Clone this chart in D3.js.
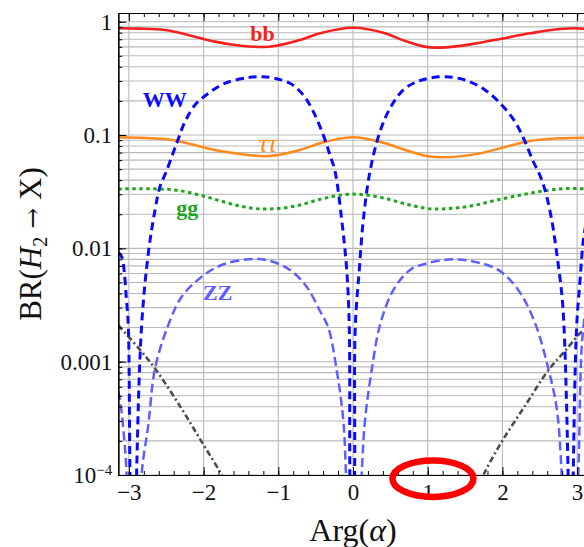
<!DOCTYPE html>
<html>
<head>
<meta charset="utf-8">
<script src="https://cdn.jsdelivr.net/npm/d3@7"></script>
<style>
  html, body { margin: 0; padding: 0; background: #fff; }
  svg text { font-family: "Liberation Serif", "Times New Roman", serif; }
</style>
</head>
<body>
<svg id="chart" width="584" height="547"></svg>
<script>

// values, [Arg(alpha), BR]
var bb = [[-3.142,0.875],[-2.85,0.868],[-2.52,0.845],[-2.12,0.738],[-1.85,0.667],[-1.5,0.614],
  [-1.18,0.598],[-0.71,0.689],[-0.44,0.79],[0,0.885],[0.43,0.79],[0.7,0.676],[1.03,0.594],
  [1.16,0.59],[1.7,0.653],[1.97,0.704],[2.37,0.79],[2.77,0.862],[2.97,0.875],[3.142,0.86]];

var tautau = [[-3.142,0.0954],[-2.52,0.0922],[-2.12,0.0816],[-1.85,0.0738],[-1.51,0.068],
  [-1.18,0.065],[-0.71,0.0738],[-0.44,0.0845],[0,0.0954],[0.43,0.0845],[0.7,0.0738],
  [1.03,0.0645],[1.16,0.0636],[1.7,0.0689],[1.97,0.0763],[2.37,0.0885],[2.77,0.0935],[3.142,0.0948]];

var gg = [[-3.142,0.0334],[-2.85,0.0336],[-2.58,0.0334],[-2.32,0.0323],[-2.05,0.0295],[-1.78,0.0263],
  [-1.51,0.0236],[-1.18,0.0222],[-0.71,0.0241],[-0.44,0.0271],[0,0.0301],[0.43,0.0276],
  [0.76,0.0241],[1.1,0.0222],[1.57,0.0236],[1.97,0.0271],[2.24,0.0295],[2.57,0.0323],
  [2.9,0.0338],[3.142,0.0334]];

var ww = [[-3.142,0.0092],[-3.096,0.0084],[-3.029,0.0033],[-3.008,0.0021],[-2.985,1e-4],[-2.94,1e-6],
  [-2.897,1e-4],[-2.829,0.0021],[-2.74,0.00903],[-2.65,0.0218],[-2.584,0.035],[-2.503,0.047],
  [-2.36,0.0845],[-2.249,0.131],[-2.115,0.184],[-1.937,0.233],[-1.714,0.286],[-1.402,0.321],
  [-1.22,0.327],[-1.111,0.323],[-0.843,0.286],[-0.665,0.225],[-0.531,0.161],[-0.398,0.1],
  [-0.308,0.0666],[-0.241,0.048],[-0.151,0.0178],[-0.084,0.00645],[-0.05,0.002],[-0.042,1e-4],
  [-0.01,1e-6],[0.022,1e-4],[0.03,0.002],[0.084,0.00645],[0.138,0.0178],[0.228,0.048],
  [0.361,0.107],[0.495,0.172],[0.673,0.25],[0.853,0.295],[1.008,0.316],[1.232,0.327],
  [1.499,0.306],[1.767,0.25],[1.991,0.184],[2.169,0.131],[2.303,0.0873],[2.414,0.0581],
  [2.49,0.046],[2.57,0.0327],[2.66,0.0178],[2.727,0.00903],[2.794,0.004],[2.825,0.002],
  [2.88,1e-4],[2.92,1e-6],[2.948,1e-4],[2.993,0.002],[3.039,0.00525],[3.083,0.0118],[3.142,0.02]];

var zz = [[-3.142,0.00055],[-3.11,0.00042],[-3.06,0.0002],[-3.03,1e-4],[-2.94,1e-6],[-2.83,1e-4],
  [-2.74,0.000276],[-2.65,0.00087],[-2.473,0.0021],[-2.293,0.00374],[-2.025,0.00562],
  [-1.758,0.00713],[-1.402,0.008],[-1.124,0.00778],[-0.843,0.00645],[-0.62,0.00458],
  [-0.442,0.0028],[-0.331,0.002],[-0.218,0.00084],[-0.13,0.000305],[-0.094,1e-4],[-0.01,1e-6],
  [0.116,1e-4],[0.161,0.000305],[0.25,0.00084],[0.361,0.0021],[0.54,0.00428],[0.763,0.00645],
  [0.987,0.00737],[1.321,0.008],[1.633,0.0076],[1.945,0.00645],[2.213,0.00428],[2.436,0.0022],
  [2.614,0.00087],[2.727,0.000387],[2.794,1e-4],[2.9,1e-6],[3.016,1e-4],[3.066,0.0015],[3.142,0.004]];

var other = [[-3.142,0.0021],[-2.85,0.00127],[-2.65,0.00087],[-2.3,0.00039],[-2.025,0.000196],
  [-1.758,1e-4],[-1.6,6e-5],[1.6,6e-5],[1.745,1e-4],[1.99,0.000196],[2.3,0.000405],
  [2.615,0.00084],[2.85,0.00127],[3.06,0.00184],[3.142,0.002]];
var otherLeft = other.slice(0, 7), otherRight = other.slice(7);

var xMajor = [-3, -2, -1, 0, 1, 2, 3];
var yMajor = [1e-4, 1e-3, 1e-2, 0.1, 1];
var yLabels = ["10", "0.001", "0.01", "0.1", "1"];

var svg = d3.select("#chart");

var plotL = 118.3, plotR = 587.7, plotT = 13, plotB = 475;

var x = d3.scaleLinear().domain([-Math.PI, Math.PI]).range([plotL, plotR]);
var y = d3.scaleLog().domain([1e-4, Math.pow(10, 0.0768)]).range([plotB, plotT]);

var yMinor = y.ticks().filter(function(d) { return d <= 1.0001; });

svg.append("defs").append("clipPath").attr("id", "plot")
  .append("rect").attr("x", plotL).attr("y", plotT)
  .attr("width", plotR - plotL).attr("height", plotB - plotT);

// grid
var grid = svg.append("g").attr("stroke", "#b9b9b9").attr("stroke-width", 1.1);
grid.selectAll(".hg").data(yMinor)
  .enter().append("line")
  .attr("x1", plotL).attr("x2", plotR)
  .attr("y1", function(d) { return y(d); }).attr("y2", function(d) { return y(d); });
grid.selectAll(".vg").data(xMajor)
  .enter().append("line")
  .attr("y1", plotT).attr("y2", plotB)
  .attr("x1", function(d) { return x(d); }).attr("x2", function(d) { return x(d); });

// curves
var smooth = d3.line()
  .x(function(d) { return x(d[0]); })
  .y(function(d) { return y(d[1]); })
  .curve(d3.curveMonotoneX);
var arcs = d3.line()
  .x(function(d) { return x(d[0]); })
  .y(function(d) { return y(d[1]); })
  .curve(d3.curveCatmullRom.alpha(0.5));

var curves = svg.append("g").attr("clip-path", "url(#plot)").attr("fill", "none");

var series = [
  { data: otherLeft,  gen: arcs,   color: "#4d4d4d", width: 2.6, dash: "6,3,2,3" },
  { data: otherRight, gen: arcs,   color: "#4d4d4d", width: 2.6, dash: "6,3,2,3" },
  { data: zz,         gen: arcs,   color: "#5f5fff", width: 2.5, dash: "9,4.5" },
  { data: gg,         gen: smooth, color: "#1ea51e", width: 3,   dash: "3.5,3.5" },
  { data: tautau,     gen: smooth, color: "#ff8a1c", width: 2.5, dash: null },
  { data: bb,         gen: smooth, color: "#f51f1f", width: 2.6, dash: null },
  { data: ww,         gen: arcs,   color: "#0a0aff", width: 3,   dash: "8,5" }
];

series.forEach(function(s) {
  curves.append("path")
    .attr("d", s.gen(s.data))
    .attr("stroke", s.color)
    .attr("stroke-width", s.width)
    .attr("stroke-dasharray", s.dash);
});

// frame axes, ticks inside
var minorX = d3.range(-3.0, 3.01, 0.2).map(function(d) { return Math.round(d * 10) / 10; });

svg.append("g").attr("transform", "translate(0," + plotB + ")")
  .call(d3.axisBottom(x).tickValues(minorX).tickSize(-4).tickSizeOuter(0).tickFormat(""));
var xa = svg.append("g").attr("transform", "translate(0," + plotB + ")")
  .call(d3.axisBottom(x).tickValues(xMajor).tickSize(-8).tickSizeOuter(0).tickPadding(9)
    .tickFormat(function(d) { return d < 0 ? "\u2212" + (-d) : String(d); }));

svg.append("g").attr("transform", "translate(0," + plotT + ")")
  .call(d3.axisTop(x).tickValues(minorX).tickSize(-4).tickSizeOuter(0).tickFormat(""));
svg.append("g").attr("transform", "translate(0," + plotT + ")")
  .call(d3.axisTop(x).tickValues(xMajor).tickSize(-8).tickSizeOuter(0).tickFormat(""));

svg.append("g").attr("transform", "translate(" + plotL + ",0)")
  .call(d3.axisLeft(y).tickValues(yMinor).tickSize(-4).tickSizeOuter(0).tickFormat(""));
var ya = svg.append("g").attr("transform", "translate(" + plotL + ",0)")
  .call(d3.axisLeft(y).tickValues(yMajor).tickSize(-8).tickSizeOuter(0).tickPadding(6)
    .tickFormat(function(d, i) { return yLabels[i]; }));

svg.selectAll(".domain").attr("stroke", "#000").attr("stroke-width", 1.2);
svg.selectAll(".tick line").attr("stroke", "#000").attr("stroke-width", 1);

xa.selectAll("text").attr("font-size", 23).attr("fill", "#111")
  .style("font-family", "'Liberation Serif', serif");
ya.selectAll("text").attr("font-size", 23).attr("fill", "#111")
  .style("font-family", "'Liberation Serif', serif");

var lowTick = ya.selectAll(".tick text").filter(function(d) { return d === 1e-4; });
lowTick.append("tspan").attr("dy", "-0.55em").attr("font-size", 15).text("\u22124");

// curve labels (anchored at baseline centre)
var labels = [
  { t: "bb", x: -1.21, y: 0.675,  c: "#f51f1f", size: 22, bold: true,  italic: false },
  { t: "WW", x: -2.52, y: 0.177,  c: "#0a0aff", size: 22, bold: true,  italic: false },
  { t: "\u03c4\u03c4", x: -1.14, y: 0.0708, c: "#ff8a1c", size: 26, bold: false, italic: true },
  { t: "gg", x: -2.22, y: 0.0197, c: "#1ea51e", size: 22, bold: true,  italic: false },
  { t: "ZZ", x: -1.81, y: 0.0035, c: "#5f5fff", size: 22, bold: true,  italic: false }
];
svg.append("g").selectAll("text").data(labels).enter().append("text")
  .attr("x", function(d) { return x(d.x); })
  .attr("y", function(d) { return y(d.y); })
  .attr("text-anchor", "middle")
  .attr("font-size", function(d) { return d.size; })
  .attr("font-weight", function(d) { return d.bold ? "bold" : "normal"; })
  .attr("font-style", function(d) { return d.italic ? "italic" : "normal"; })
  .attr("fill", function(d) { return d.c; })
  .text(function(d) { return d.t; });

// axis titles
svg.append("text")
  .attr("x", 353).attr("y", 541)
  .attr("text-anchor", "middle").attr("font-size", 32).attr("fill", "#111")
  .html("Arg(<tspan font-style='italic'>\u03b1</tspan>)");

svg.append("text")
  .attr("transform", "translate(41,244) rotate(-90)")
  .attr("text-anchor", "middle").attr("font-size", 31).attr("fill", "#111")
  .html("BR(<tspan font-style='italic'>H</tspan><tspan font-size='20' dy='6'>2</tspan>" +
        "<tspan dy='-6' font-family='DejaVu Serif' font-size='25'> \u2192 </tspan>X)");

// red ring
svg.append("ellipse")
  .attr("cx", x(1.07)).attr("cy", plotB + 3.7)
  .attr("rx", 40.5).attr("ry", 18.2)
  .attr("fill", "none").attr("stroke", "#ff0000").attr("stroke-width", 6.5);

</script>
</body>
</html>
